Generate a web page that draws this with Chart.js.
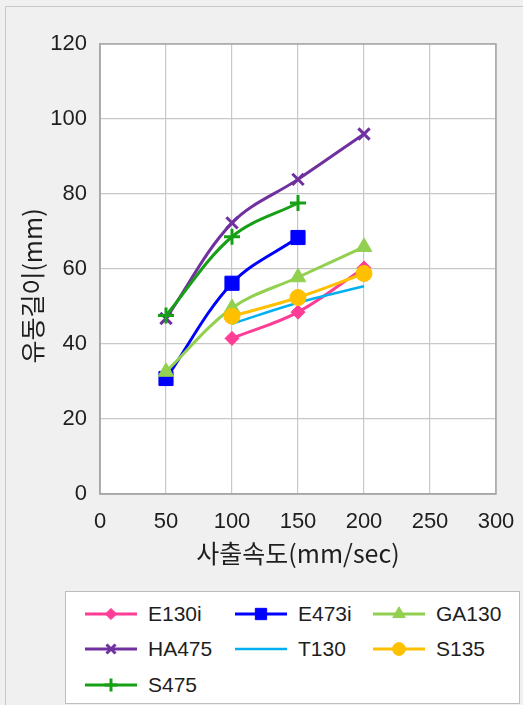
<!DOCTYPE html>
<html>
<head>
<meta charset="utf-8">
<script src="https://cdn.jsdelivr.net/npm/chart.js@4.4.1/dist/chart.umd.min.js"></script>
<style>
  html, body { margin: 0; padding: 0; background: #f0f0f0; }
  body { width: 523px; height: 705px; position: relative; overflow: hidden; }
  #frame {
    position: absolute; left: 5px; top: 6px; width: 540px; height: 720px;
    border-left: 1px solid #c8c8c8; border-top: 1px solid #c8c8c8;
  }
  #chart { position: absolute; left: 0; top: 0; }
  #legend {
    position: absolute; left: 65px; top: 591px; width: 453px; height: 111px;
    background: #fff; border: 1px solid #bdbdbd;
    font-family: 'Liberation Sans', 'Noto Sans CJK KR', sans-serif; font-size: 21px; color: #1e1e1e;
  }
  .item { position: absolute; height: 24px; display: flex; align-items: center; }
  .item canvas { margin-right: 11px; }
</style>
</head>
<body>
<div id="frame"></div>
<canvas id="chart" width="523" height="580"></canvas>
<div id="legend"></div>
<script>
// injection speed (mm/sec) and flow length (mm) per material
const speeds = [50, 100, 150, 200];
const e130i = [null, 41.5, 48.5, 60.3];
const e473i = [30.8, 56.2, 68.4, null];
const ga130 = [32.6, 49.6, 57.8, 65.9];
const ha475 = [46.8, 72.3, 83.9, 96.0];
const t130  = [null, 45.4, 51.0, 55.4];
const s135  = [null, 47.4, 52.4, 58.8];
const s475  = [47.6, 68.6, 77.6, null];

const seriesNames = ['E130i', 'E473i', 'GA130', 'HA475', 'T130', 'S135', 'S475'];
const seriesValues = [e130i, e473i, ga130, ha475, t130, s135, s475];

const xTicks = [0, 50, 100, 150, 200, 250, 300];
const yTicks = [0, 20, 40, 60, 80, 100, 120];

const styles = [
  { color: '#ff3c96', pointStyle: 'rectRot', radius: 7, width: 3 },
  { color: '#0000ff', pointStyle: 'rect', radius: 10, width: 3 },
  { color: '#92d050', pointStyle: 'triangle', radius: 9, width: 3 },
  { color: '#7030a0', pointStyle: 'crossRot', radius: 8, width: 3 },
  { color: '#00b0f0', pointStyle: false, radius: 0, width: 2.5 },
  { color: '#ffc000', pointStyle: 'circle', radius: 8, width: 3 },
  { color: '#16a016', pointStyle: 'cross', radius: 8, width: 3 }
];

const FONT = "'Liberation Sans', 'Noto Sans CJK KR', sans-serif";
const TITLE_FONT = "'Noto Sans CJK KR', 'Liberation Sans', sans-serif";
const TEXT = '#1e1e1e';

const datasets = seriesNames.map((name, i) => {
  const st = styles[i];
  const pts = [];
  seriesValues[i].forEach((v, j) => { if (v !== null) pts.push({ x: speeds[j], y: v }); });
  return {
    label: name,
    data: pts,
    borderColor: st.color,
    backgroundColor: st.color,
    borderWidth: st.width,
    pointStyle: st.pointStyle || 'circle',
    pointRadius: st.radius,
    pointHoverRadius: st.radius,
    pointBackgroundColor: st.color,
    pointBorderColor: st.color,
    pointBorderWidth: st.pointStyle === 'cross' || st.pointStyle === 'crossRot' ? 3 : 1,
    tension: 0.35,
    order: seriesNames.length - i
  };
});

// white plot background and frame around it
const plotFrame = {
  id: 'plotFrame',
  beforeDraw(chart) {
    const { ctx, chartArea: a } = chart;
    ctx.save();
    ctx.fillStyle = '#ffffff';
    ctx.fillRect(a.left, a.top, a.right - a.left, a.bottom - a.top);
    ctx.restore();
  },
  beforeDatasetsDraw(chart) {
    const { ctx, chartArea: a } = chart;
    ctx.save();
    ctx.strokeStyle = '#a6a6a6';
    ctx.lineWidth = 1.5;
    ctx.strokeRect(a.left, a.top, a.right - a.left, a.bottom - a.top);
    ctx.restore();
  }
};

// rotated y-axis title
const yTitle = {
  id: 'yTitle',
  afterDraw(chart) {
    const { ctx } = chart;
    ctx.save();
    ctx.translate(32, 286);
    ctx.rotate(-Math.PI / 2);
    ctx.font = '25px ' + TITLE_FONT;
    ctx.fillStyle = TEXT;
    ctx.textAlign = 'center';
    ctx.textBaseline = 'middle';
    ctx.fillText('유동길이(mm)', 0, 0);
    ctx.restore();
  }
};

new Chart(document.getElementById('chart'), {
  type: 'line',
  data: { datasets: datasets },
  options: {
    responsive: false,
    animation: false,
    layout: { padding: { top: 44, right: 27, left: 0, bottom: 0 } },
    plugins: { legend: { display: false }, tooltip: { enabled: false } },
    scales: {
      x: {
        type: 'linear',
        min: 0, max: 300,
        afterBuildTicks: s => { s.ticks = xTicks.map(v => ({ value: v })); },
        afterFit: s => { s.height = 86; s.paddingLeft = 0; s.paddingRight = 0; },
        grid: { color: '#c8c8c8', lineWidth: 1.2, drawTicks: false },
        border: { color: '#a6a6a6', width: 1.5 },
        ticks: { padding: 15, color: TEXT, font: { family: FONT, size: 22 } },
        title: {
          display: true, text: '사출속도(mm/sec)', color: TEXT,
          font: { family: TITLE_FONT, size: 25 }, padding: { top: 0, bottom: 12 }
        }
      },
      y: {
        min: 0, max: 120,
        afterBuildTicks: s => { s.ticks = yTicks.map(v => ({ value: v })); },
        afterFit: s => { s.width = 100; s.paddingTop = 0; s.paddingBottom = 0; },
        grid: { color: '#c8c8c8', lineWidth: 1.2, drawTicks: false },
        border: { color: '#a6a6a6', width: 1.5 },
        ticks: { padding: 13, color: TEXT, font: { family: FONT, size: 22 } }
      }
    }
  },
  plugins: [plotFrame, yTitle]
});

// legend: three columns, line + marker icon
const colLeft = [19, 169, 307];
const rowTop = [10, 45, 81];
const legend = document.getElementById('legend');
seriesNames.forEach((name, i) => {
  const st = styles[i];
  const item = document.createElement('div');
  item.className = 'item';
  item.style.left = colLeft[i % 3] + 'px';
  item.style.top = rowTop[Math.floor(i / 3)] + 'px';
  const c = document.createElement('canvas');
  c.width = 52; c.height = 24;
  const ctx = c.getContext('2d');
  ctx.strokeStyle = st.color;
  ctx.lineWidth = st.width;
  ctx.beginPath();
  ctx.moveTo(0, 12); ctx.lineTo(52, 12);
  ctx.stroke();
  if (st.pointStyle) {
    ctx.fillStyle = st.color;
    ctx.lineWidth = st.pointStyle.startsWith('cross') ? 3 : 1;
    Chart.helpers.drawPoint(ctx, { pointStyle: st.pointStyle, radius: st.radius * 0.8, rotation: 0, borderWidth: ctx.lineWidth }, 26, 12);
  }
  item.appendChild(c);
  const t = document.createElement('span');
  t.textContent = name;
  item.appendChild(t);
  legend.appendChild(item);
});
</script>
</body>
</html>
